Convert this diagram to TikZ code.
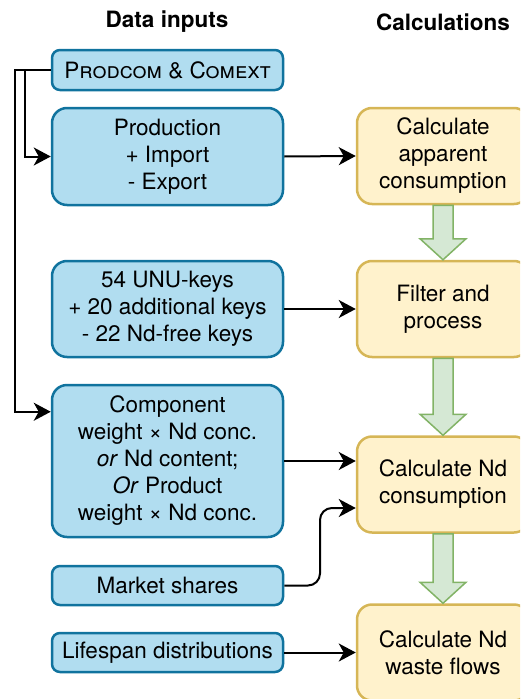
\documentclass[tikz,border=0pt]{standalone}
\usepackage{fontspec}
\setmainfont{TeX Gyre Heros}
\usetikzlibrary{arrows.meta,calc}
\definecolor{inblue}{HTML}{B1DDF0}
\definecolor{inedge}{HTML}{10739E}
\definecolor{calcfill}{HTML}{FFF2CC}
\definecolor{calcedge}{HTML}{D6B656}
\definecolor{flowfill}{HTML}{D5E8D4}
\definecolor{flowedge}{HTML}{82B366}
\tikzset{
  inbox/.style={draw=inedge, fill=inblue, line width=2.5pt, rounded corners=15pt,
    minimum width=231pt, align=center, inner sep=0pt},
  smallbox/.style={inbox, rounded corners=8pt, minimum height=39pt},
  calcbox/.style={draw=calcedge, fill=calcfill, line width=2.5pt, rounded corners=15pt,
    minimum width=172pt, minimum height=96pt, align=center, inner sep=0pt},
  flowarrow/.style={draw=flowedge, fill=flowfill, line width=1.5pt, line join=miter},
  link/.style={->, line width=2pt}
}

\begin{document}
\begin{tikzpicture}[x=1pt, y=-1pt, font=\fontsize{22.5}{27}\selectfont,
  >={Stealth[length=17pt, width=18pt, inset=5pt]}]
  \useasboundingbox (0,0) rectangle (520,699);
  \clip (0,0) rectangle (520,699);
  \node[font=\bfseries\fontsize{22.5}{27}\selectfont] (hin) at (167,22) {Data inputs};
  \node[font=\bfseries\fontsize{22.5}{27}\selectfont] (hcalc) at (443,22) {Calculations};
  \node[smallbox, minimum height=40pt] (prodcom) at (167.5,70) {\textsc{Prodcom \& Comext}};
  \node[inbox, minimum height=97pt] (prod) at (167.5,156.5) {Production\\+ Import\\- Export};
  \node[inbox, minimum height=96pt] (unu) at (167.5,309) {54 UNU-keys\\+ 20 additional keys\\- 22 Nd-free keys};
  \node[inbox, minimum height=152pt] (comp) at (167.5,461) {Component\\weight × Nd conc.\\\textit{or} Nd content;\\\textit{Or} Product\\weight × Nd conc.};
  \node[smallbox] (mkt) at (167.5,585.5) {Market shares};
  \node[smallbox] (life) at (167.5,652.5) {Lifespan distributions};
  \node[calcbox] (app) at (443,156) {Calculate\\apparent\\consumption};
  \node[calcbox] (filt) at (443,309) {Filter and\\process};
  \node[calcbox] (ndc) at (443,484.5) {Calculate Nd\\consumption};
  \node[calcbox] (waste) at (443,652.5) {Calculate Nd\\waste flows};
  \foreach \a/\b in {app/filt, filt/ndc, ndc/waste}
    \draw[flowarrow] ($(\a.south)+(-10,0)$) -- ($(\b.north)+(-10,-21)$) -- ($(\b.north)+(-23,-21)$)
      -- (\b.north) -- ($(\b.north)+(23,-21)$) -- ($(\b.north)+(10,-21)$) -- ($(\a.south)+(10,0)$) -- cycle;
  \coordinate (compin) at ($(comp.north west)+(0,28)$);
  \draw[link] (prodcom.west) -- ++(-36,0) |- (compin);
  \draw[link] (prodcom.west) -- ++(-26,0) |- (prod.west);
  \draw[link] (prod.east) -- (app.west);
  \draw[link] (unu.east) -- (filt.west);
  \draw[link] (comp.east) -- (comp.east -| ndc.west);
  \draw[link, rounded corners=12pt] (mkt.east) -| ($(mkt.east)!0.5!(ndc.west)$) |- ($(ndc.west)+(0,23.5)$);
  \draw[link] (life.east) -- (waste.west);
\end{tikzpicture}
\end{document}
